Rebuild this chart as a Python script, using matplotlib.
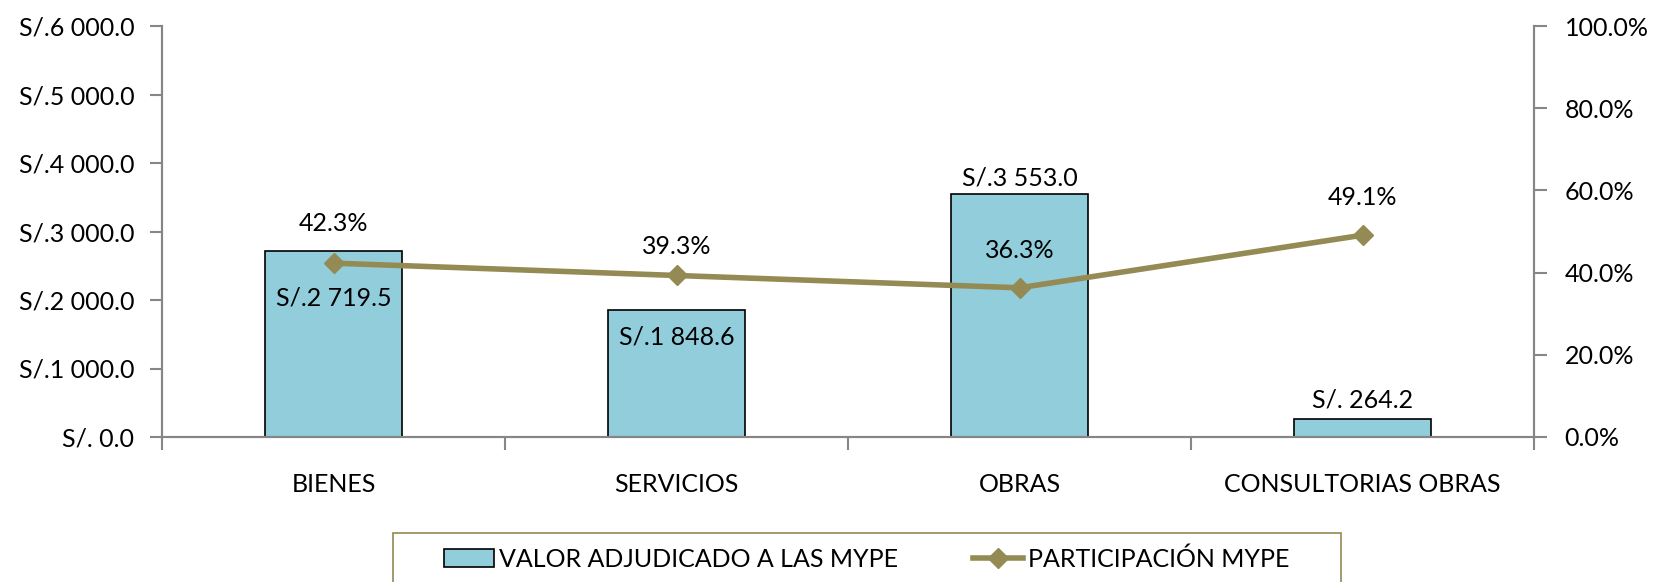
import matplotlib
matplotlib.use('Agg')
import matplotlib.pyplot as plt
import matplotlib.patches as mpatches
from matplotlib.lines import Line2D
from matplotlib.ticker import FixedLocator, FixedFormatter

plt.rcParams['font.family'] = ['Lato', 'DejaVu Sans']

categorias = ["BIENES", "SERVICIOS", "OBRAS", "CONSULTORIAS OBRAS"]
valor_mype = [2719.5, 1848.6, 3553.0, 264.2]
participacion = [42.3, 39.3, 36.3, 49.1]
valor_labels = ["S/.2 719.5", "S/.1 848.6", "S/.3 553.0", "S/. 264.2"]
pct_labels = ["42.3%", "39.3%", "36.3%", "49.1%"]
y_left_ticks = [0, 1000, 2000, 3000, 4000, 5000, 6000]
y_left_labels = ["S/. 0.0", "S/.1 000.0", "S/.2 000.0", "S/.3 000.0",
                 "S/.4 000.0", "S/.5 000.0", "S/.6 000.0"]
y_right_ticks = [0, 20, 40, 60, 80, 100]
y_right_labels = ["0.0%", "20.0%", "40.0%", "60.0%", "80.0%", "100.0%"]

bar_color = "#92CDDC"
line_color = "#948A54"
axis_color = "#868686"
fs = 18

fig = plt.figure(figsize=(16.53, 5.82), dpi=100)
ax = fig.add_axes([162/1653, 1-437/582, (1534-162)/1653, (437-26)/582])
ax2 = ax.twinx()

x = list(range(len(categorias)))
ax.bar(x, valor_mype, width=0.4, color=bar_color, edgecolor="black", linewidth=1.2, zorder=2)
ax.set_xlim(-0.5, 3.5)
ax.set_ylim(0, 6000)
ax2.set_ylim(0, 100)

ax2.plot(x, participacion, color=line_color, linewidth=4, marker="D", markersize=10, zorder=3)

# etiquetas de las barras (desplazadas como en el original)
bar_off = [-47, -27, 16, 19]
for i in x:
    ax.annotate(valor_labels[i], (x[i], valor_mype[i]), xytext=(0, bar_off[i]),
                textcoords="offset pixels", ha="center", va="center", fontsize=fs)
pct_off = [40, 29, 37, 38]
for i in x:
    ax2.annotate(pct_labels[i], (x[i], participacion[i]), xytext=(0, pct_off[i]),
                 textcoords="offset pixels", ha="center", va="center", fontsize=fs)

ax.yaxis.set_major_locator(FixedLocator(y_left_ticks))
ax.yaxis.set_major_formatter(FixedFormatter(y_left_labels))
ax2.yaxis.set_major_locator(FixedLocator(y_right_ticks))
ax2.yaxis.set_major_formatter(FixedFormatter(y_right_labels))

ax.set_xticks([-0.5, 0.5, 1.5, 2.5, 3.5])
ax.set_xticklabels([])
ax.set_xticks(x, minor=True)
ax.set_xticklabels(categorias, minor=True)
ax.tick_params(axis="x", which="minor", length=0, pad=26, labelsize=fs)
ax.tick_params(axis="x", which="major", length=9, color=axis_color, width=1.5)
ax.tick_params(axis="y", length=9, color=axis_color, width=1.5, labelsize=fs, pad=11)
ax2.tick_params(axis="y", length=9, color=axis_color, width=1.5, labelsize=fs, pad=13)

for a in (ax, ax2):
    a.spines["top"].set_visible(False)
    for s in ("left", "right", "bottom"):
        a.spines[s].set_color(axis_color)
        a.spines[s].set_linewidth(1.5)

# cuadro de la leyenda
frame = mpatches.Rectangle((393/1653, -0.05), (1341-393)/1653, 1-533/582+0.05,
                           transform=fig.transFigure, facecolor="none",
                           edgecolor=line_color, linewidth=1.2)
fig.patches.append(frame)
handles = [mpatches.Patch(facecolor=bar_color, edgecolor="black", linewidth=1.2),
           Line2D([], [], color=line_color, linewidth=4, marker="D", markersize=10)]
fig.legend(handles, ["VALOR ADJUDICADO A LAS MYPE", "PARTICIPACIÓN MYPE"],
           loc="center", bbox_to_anchor=(867/1653, 1-559/582), ncol=2, frameon=False,
           fontsize=fs, handlelength=2.0, handletextpad=0.2, columnspacing=3.0)

plt.savefig("out.png", dpi=100)
